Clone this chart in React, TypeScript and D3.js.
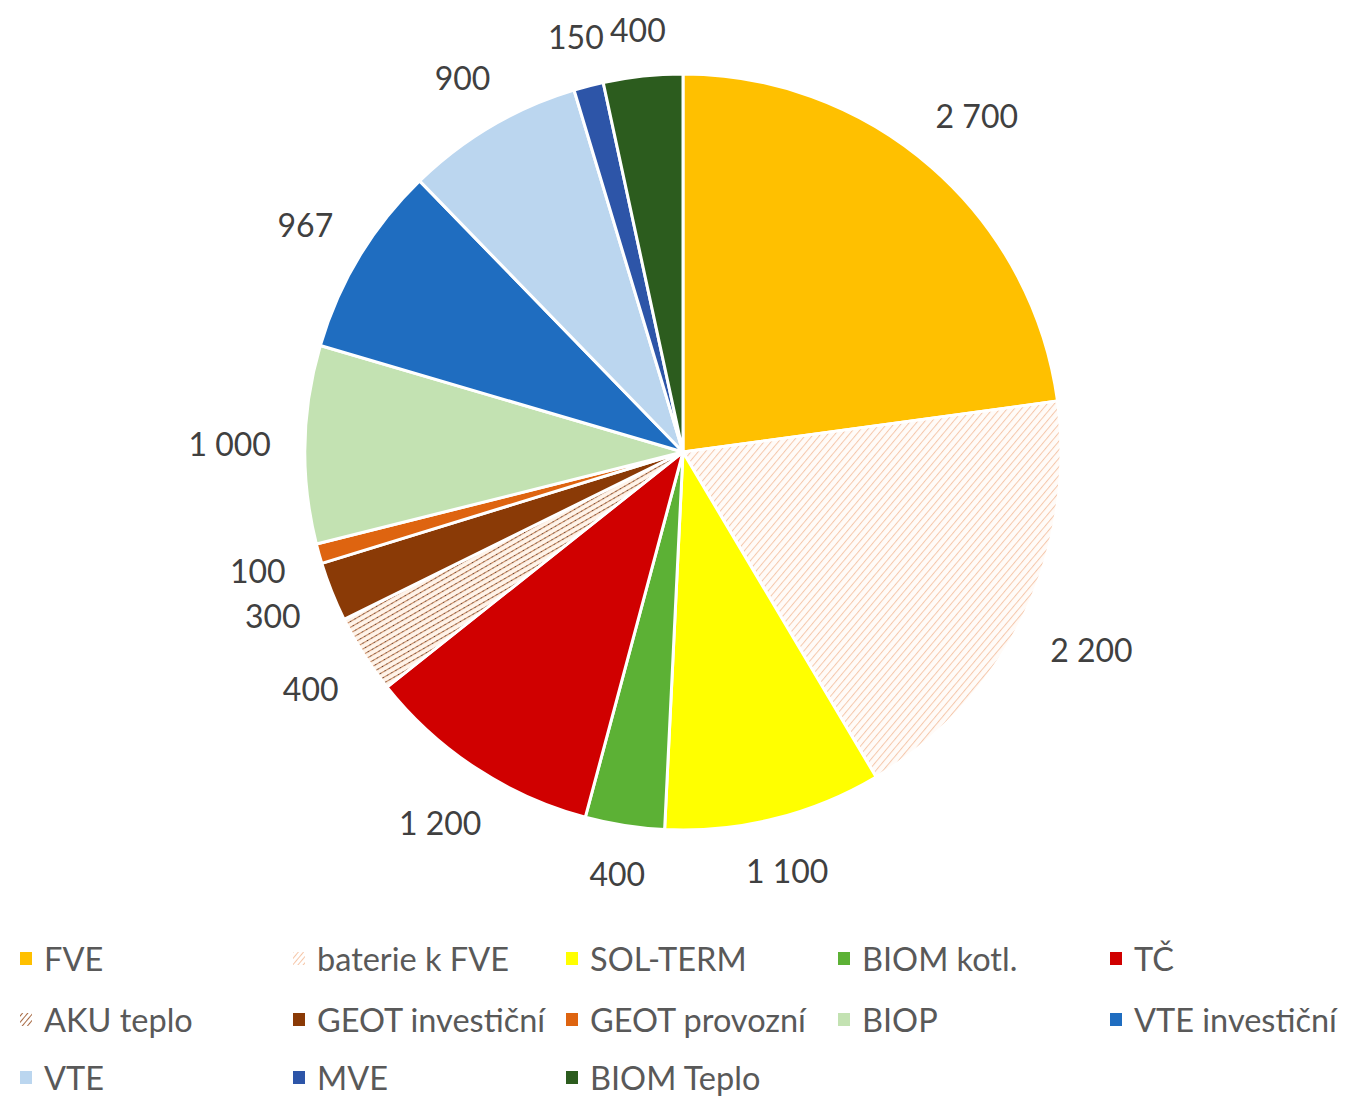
import React from "react";
import * as d3 from "d3";

const categories = ["FVE", "baterie k FVE", "SOL-TERM", "BIOM kotl.", "TČ", "AKU teplo", "GEOT investiční", "GEOT provozní", "BIOP", "VTE investiční", "VTE", "MVE", "BIOM Teplo"];
const values = [2700, 2200, 1100, 400, 1200, 400, 300, 100, 1000, 967, 900, 150, 400];
const labels = ["2 700", "2 200", "1 100", "400", "1 200", "400", "300", "100", "1 000", "967", "900", "150", "400"];
const colors = ["#FFC000", "url(#patBat)", "#FFFF00", "#5CB135", "#D00000", "url(#patAku)", "#8A3A06", "#DE6410", "#C3E2B2", "#1F6DC0", "#BBD6EF", "#2D55A8", "#2C5C1E"];
const legendColors = ["#FFC000", "url(#patBatL)", "#FFFF00", "#5CB135", "#D00000", "url(#patAkuL)", "#8A3A06", "#DE6410", "#C3E2B2", "#1F6DC0", "#BBD6EF", "#2D55A8", "#2C5C1E"];

const W = 1348, H = 1098;
const cx = 683, cy = 452, R = 378;
const FONT = "Lato, 'Open Sans', sans-serif";

export default function App() {
  const pie = d3.pie<number>().value((d) => d).sort(null);
  const arcs = pie(values);
  const arc = d3.arc<d3.PieArcDatum<number>>().innerRadius(0).outerRadius(R);
  const fs = 32;
  const charW = (s: string) => s.split("").reduce((a, c) => a + (c === " " ? 0.26 : 0.58), 0) * fs;

  const legendX = [20, 293, 566, 838, 1110];
  const legendY = [958, 1019, 1077];

  return (
    <svg width={W} height={H} style={{ display: "block", position: "absolute", left: 0, top: 0 }}>
      <defs>
        <pattern id="patBat" width="5.5" height="5.5" patternUnits="userSpaceOnUse" patternTransform="rotate(-50)">
          <rect width="5.5" height="5.5" fill="#FFFBF8" />
          <line x1="0" y1="0" x2="5.5" y2="0" stroke="#F5C8AC" strokeWidth="2" />
        </pattern>
        <pattern id="patAku" width="5" height="5" patternUnits="userSpaceOnUse" patternTransform="rotate(-30)">
          <rect width="5" height="5" fill="#FFF4EA" />
          <line x1="0" y1="0" x2="5" y2="0" stroke="#C98A62" strokeWidth="2.2" />
          <circle cx="2.5" cy="0" r="0.9" fill="#5A3320" />
        </pattern>
        <pattern id="patBatL" width="4" height="4" patternUnits="userSpaceOnUse" patternTransform="rotate(-50)">
          <rect width="4" height="4" fill="#FFFFFF" />
          <line x1="0" y1="0" x2="4" y2="0" stroke="#F6C6A8" strokeWidth="2" />
        </pattern>
        <pattern id="patAkuL" width="4" height="4" patternUnits="userSpaceOnUse" patternTransform="rotate(-50)">
          <rect width="4" height="4" fill="#FFFFFF" />
          <line x1="0" y1="0" x2="4" y2="0" stroke="#A86A44" strokeWidth="2" />
        </pattern>
      </defs>
      <g transform={`translate(${cx},${cy})`}>
        {arcs.map((a, i) => (
          <path key={i} d={arc(a) || ""} fill={colors[i]} stroke="#FFFFFF" strokeWidth={3} strokeLinejoin="round" />
        ))}
        {arcs.map((a, i) => {
          const m = (a.startAngle + a.endAngle) / 2;
          const s = Math.sin(m), c = -Math.cos(m);
          const hw = charW(labels[i]) / 2, hh = 10;
          const d = R + 34 + Math.abs(s) * hw + Math.abs(c) * hh;
          return (
            <text key={"l" + i} x={s * d} y={c * d} textAnchor="middle" dominantBaseline="central"
              fontFamily={FONT} fontSize={fs} fill="#404040">{labels[i]}</text>
          );
        })}
      </g>
      <g>
        {categories.map((name, i) => {
          const col = i % 5, row = Math.floor(i / 5);
          const x = legendX[col], y = legendY[row];
          return (
            <g key={"lg" + i}>
              <rect x={x} y={y - 6} width={12} height={13} fill={legendColors[i]} />
              <text x={x + 24} y={y} dominantBaseline="central" fontFamily={FONT} fontSize={32.5} fill="#595959">{name}</text>
            </g>
          );
        })}
      </g>
    </svg>
  );
}
